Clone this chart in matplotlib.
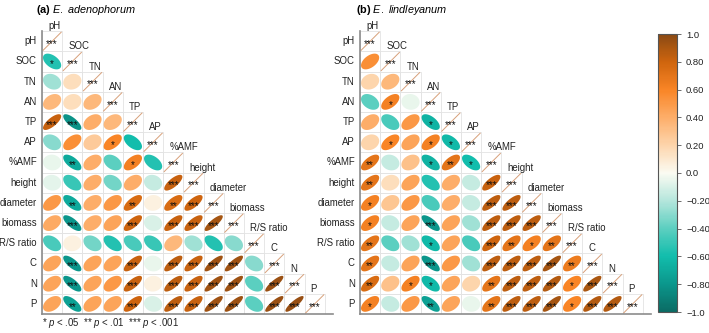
import numpy as np
import matplotlib.pyplot as plt
from matplotlib.colors import LinearSegmentedColormap, Normalize
from matplotlib.cm import ScalarMappable
from matplotlib.patches import Polygon, Rectangle

plt.rcParams['font.family'] = 'Liberation Sans'
plt.rcParams['mathtext.fontset'] = 'custom'
plt.rcParams['mathtext.rm'] = 'Liberation Sans'
plt.rcParams['mathtext.it'] = 'Liberation Sans:italic'
plt.rcParams['mathtext.bf'] = 'Liberation Sans:bold'

# variables (same order for rows and columns)
labels = ['pH', 'SOC', 'TN', 'AN', 'TP', 'AP', '%AMF', 'height', 'diameter',
          'biomass', 'R/S ratio', 'C', 'N', 'P']

# (a) E. adenophorum - lower triangle correlations
r_a = [
    [1],
    [-0.55, 1],
    [-0.25, 0.15, 1],
    [0.35, 0.15, 0.35, 1],
    [0.82, -0.82, 0.4, 0.35, 1],
    [-0.3, 0.55, 0.25, 0.6, -0.6, 1],
    [-0.05, -0.7, 0.4, -0.4, 0.62, -0.55, 1],
    [-0.07, -0.5, 0.4, -0.35, 0.4, -0.15, 0.82, 1],
    [0.5, -0.7, 0.4, 0.5, 0.75, 0.05, 0.75, 0.8, 1],
    [0.42, -0.8, 0.4, 0.45, 0.8, -0.1, 0.82, 0.82, 0.92, 1],
    [-0.45, 0.05, -0.35, -0.55, -0.45, -0.5, 0.35, -0.25, -0.55, -0.3, 1],
    [0.45, -0.8, 0.45, 0.45, 0.82, -0.05, 0.85, 0.82, 0.93, 0.93, -0.3, 1],
    [0.45, -0.8, 0.45, 0.5, 0.82, 0.05, 0.85, 0.82, 0.93, 0.94, -0.4, 0.95, 1],
    [0.45, -0.75, 0.45, 0.45, 0.8, -0.1, 0.85, 0.82, 0.93, 0.94, -0.4, 0.95, 0.96, 1],
]
# number of stars
sig_a = [
    [3],
    [1, 3],
    [0, 0, 3],
    [0, 0, 0, 3],
    [3, 3, 0, 0, 3],
    [0, 0, 0, 1, 0, 3],
    [0, 2, 0, 0, 1, 0, 3],
    [0, 0, 0, 0, 0, 0, 3, 3],
    [0, 2, 0, 0, 2, 0, 2, 3, 3],
    [0, 3, 0, 0, 3, 0, 3, 3, 3, 3],
    [0, 0, 0, 0, 0, 0, 0, 0, 0, 0, 3],
    [0, 3, 0, 0, 3, 0, 3, 3, 3, 3, 0, 3],
    [0, 3, 0, 0, 3, 0, 3, 3, 3, 3, 0, 3, 3],
    [0, 2, 0, 0, 3, 0, 3, 3, 3, 3, 0, 3, 3, 3],
]

# (b) E. lindleyanum
r_b = [
    [1],
    [0.55, 1],
    [0.2, 0.35, 1],
    [-0.4, 0.62, -0.05, 1],
    [0.4, -0.45, 0.5, -0.65, 1],
    [0.2, 0.6, 0.45, 0.62, -0.62, 1],
    [0.7, -0.15, 0.3, -0.65, 0.7, -0.6, 1],
    [0.7, 0.15, 0.45, -0.55, 0.4, -0.15, 0.82, 1],
    [0.62, 0.28, 0.5, -0.45, 0.4, -0.15, 0.85, 0.85, 1],
    [0.62, -0.15, 0.45, -0.8, 0.45, -0.25, 0.85, 0.85, 0.85, 1],
    [0.7, -0.4, -0.25, -0.62, 0.45, -0.45, 0.8, 0.7, 0.62, 0.7, 1],
    [0.7, -0.15, 0.45, -0.8, 0.5, -0.25, 0.85, 0.85, 0.85, 0.92, 0.65, 1],
    [0.75, 0.3, 0.62, -0.62, 0.45, 0.2, 0.7, 0.85, 0.85, 0.88, 0.6, 0.9, 1],
    [0.62, -0.15, 0.5, -0.75, 0.45, -0.05, 0.7, 0.85, 0.85, 0.92, 0.6, 0.88, 0.88, 1],
]
sig_b = [
    [3],
    [0, 3],
    [0, 0, 3],
    [0, 1, 0, 3],
    [0, 0, 0, 1, 3],
    [0, 1, 0, 1, 1, 3],
    [2, 0, 0, 1, 2, 1, 3],
    [2, 0, 0, 0, 0, 0, 3, 3],
    [1, 0, 0, 0, 0, 0, 3, 3, 3],
    [1, 0, 0, 3, 0, 0, 3, 3, 3, 3],
    [2, 0, 0, 1, 0, 0, 3, 2, 1, 2, 3],
    [2, 0, 0, 3, 0, 0, 3, 3, 3, 3, 2, 3],
    [2, 0, 1, 1, 0, 0, 2, 3, 3, 3, 1, 3, 3],
    [1, 0, 0, 2, 0, 0, 2, 3, 3, 3, 1, 3, 3, 3],
]

cb_ticks = [1.0, 0.8, 0.6, 0.4, 0.2, 0.0, -0.2, -0.4, -0.6, -0.8, -1.0]
cb_labels = ['1.0', '0.80', '0.60', '0.40', '0.20', '0.0',
             '\u22120.20', '\u22120.40', '\u22120.60', '\u22120.80', '\u22121.0']

cmap = LinearSegmentedColormap.from_list('corr', [
    (0.0, '#0b6b64'), (0.1, '#0b978c'), (0.2, '#12bdac'), (0.3, '#5ccfc0'),
    (0.4, '#b5e6dc'), (0.5, '#fbfbf2'), (0.6, '#fdd5ac'), (0.7, '#fdae6a'),
    (0.8, '#f98526'), (0.9, '#cf650e'), (1.0, '#8a4a14')])
norm = Normalize(-1, 1)

W, H = 709, 333
fig = plt.figure(figsize=(W / 100, H / 100), dpi=100)

cell = 20.2
t = np.linspace(0, 2 * np.pi, 90)


def draw_panel(left, r_rows, sig_rows):
    n = len(labels)
    ax = fig.add_axes([left / W, (H - 314) / H, (n + 0.4) * cell / W, n * cell / H])
    ax.set_xlim(0, n + 0.4)
    ax.set_ylim(n, 0)
    for i, row in enumerate(r_rows):
        for j, r in enumerate(row):
            ax.add_patch(Rectangle((j, i), 1, 1, fill=False, ec='#e3e3e3', lw=0.6))
            stars = '*' * sig_rows[i][j]
            if i == j:
                ax.plot([j + 0.05, j + 0.95], [i + 0.95, i + 0.05], color='#d7a07a', lw=0.7)
            else:
                # ellipse shape slightly softened so strong ones stay fat
                d = np.arccos(0.9 * r)
                x = np.cos(t + d / 2)
                y = np.cos(t - d / 2)
                pts = np.c_[j + 0.5 + 0.45 * x, i + 0.5 - 0.39 * y]
                ax.add_patch(Polygon(pts, closed=True, fc=cmap(norm(r)), ec='none'))
            if stars:
                ax.text(j + 0.5, i + 0.64, stars, ha='center', va='center',
                        fontsize=7, color='#111111')
    for i, lab in enumerate(labels):
        ax.text(-0.25, i + 0.5, lab, ha='right', va='center', fontsize=6.9, color='#222222')
        ax.text(i + 0.3, i - 0.25, lab, ha='left', va='center', fontsize=6.9,
                color='#222222', clip_on=False)
    for s in ['top', 'right']:
        ax.spines[s].set_visible(False)
    for s in ['left', 'bottom']:
        ax.spines[s].set_color('#8c8c8c')
        ax.spines[s].set_linewidth(1.2)
    ax.set_xticks([])
    ax.set_yticks([])
    return ax


draw_panel(42, r_a, sig_a)
draw_panel(360, r_b, sig_b)

fig.text(36 / W, 1 - 10 / H, r'$\bf{(a)}$ $\it{E.\ adenophorum}$', fontsize=7.8, va='center')
fig.text(356 / W, 1 - 10 / H, r'$\bf{(b)}$ $\it{E.\ lindleyanum}$', fontsize=7.8, va='center')
fig.text(42 / W, 1 - 323 / H,
         r'* $\it{p}$ < .05  ** $\it{p}$ < .01  *** $\it{p}$ < .001',
         fontsize=6.9, va='center', color='#222222')

cax = fig.add_axes([658 / W, (H - 312) / H, 19 / W, 278 / H])
cb = fig.colorbar(ScalarMappable(norm=norm, cmap=cmap), cax=cax, ticks=cb_ticks)
cb.ax.set_yticklabels(cb_labels)
cb.ax.tick_params(labelsize=6.8, length=3, width=0.6, color='#555555', labelcolor='#222222')
cb.outline.set_edgecolor('#555555')
cb.outline.set_linewidth(0.8)

fig.savefig('out.png', dpi=100)
